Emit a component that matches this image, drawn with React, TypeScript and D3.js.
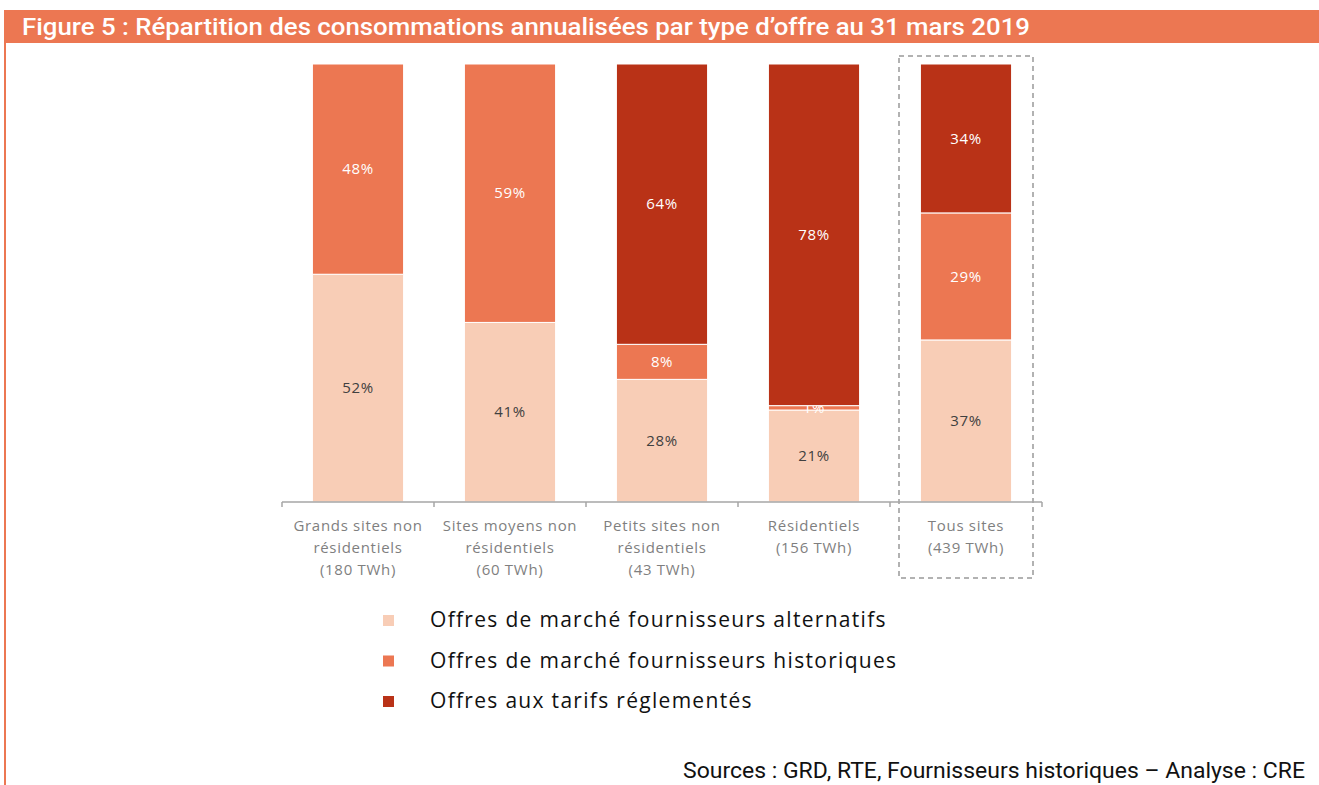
import { useEffect, useRef } from 'react';
import * as d3 from 'd3';

// category labels (multi-line) and series values in %
const categories = [
  ['Grands sites non', 'résidentiels', '(180 TWh)'],
  ['Sites moyens non', 'résidentiels', '(60 TWh)'],
  ['Petits sites non', 'résidentiels', '(43 TWh)'],
  ['Résidentiels', '(156 TWh)'],
  ['Tous sites', '(439 TWh)'],
];
const alternatifs = [52, 41, 28, 21, 37];
const historiques = [48, 59, 8, 1, 29];
const reglementes = [0, 0, 64, 78, 34];

const seriesNames = [
  'Offres de marché fournisseurs alternatifs',
  'Offres de marché fournisseurs historiques',
  'Offres aux tarifs réglementés',
];
const colors = ['#F8CDB6', '#EC7752', '#B93217'];
const labelColors = ['#404040', '#ffffff', '#ffffff'];

const title = 'Figure 5 : Répartition des consommations annualisées par type d’offre au 31 mars 2019';
const source = 'Sources : GRD, RTE, Fournisseurs historiques – Analyse : CRE';

const W = 1319;
const H = 785;

const App = () => {
  const svgRef = useRef<SVGSVGElement>(null);

  useEffect(() => {
    const svg = d3.select(svgRef.current);
    svg.selectAll('*').remove();

    const narrow = 'Roboto, "Liberation Sans", sans-serif';
    const body = '"Open Sans", "Liberation Sans", sans-serif';

    // frame: title bar and left border
    svg.append('rect').attr('x', 4).attr('y', 10).attr('width', W - 4).attr('height', 33).attr('fill', '#EC7752');
    svg.append('rect').attr('x', 4).attr('y', 10).attr('width', 2).attr('height', H - 10).attr('fill', '#EC7752');
    svg.append('text')
      .attr('x', 22)
      .attr('y', 35)
      .attr('fill', '#fff')
      .attr('font-family', narrow)
      .attr('font-weight', 500)
      .attr('font-size', 24)
      .attr('textLength', 1008)
      .attr('lengthAdjust', 'spacingAndGlyphs')
      .text(title);

    const rows = categories.map((c, i) => ({
      key: i,
      alt: alternatifs[i],
      hist: historiques[i],
      reg: reglementes[i],
    }));
    const keys = ['alt', 'hist', 'reg'];
    const stack = d3.stack<any>().keys(keys)(rows);

    const x = d3.scaleBand<number>()
      .domain(rows.map(r => r.key))
      .range([282, 1042])
      .paddingInner(0.4)
      .paddingOuter(0.2);
    const y = d3.scaleLinear().domain([0, 100]).range([502, 64]);

    const g = svg.append('g');

    // dashed box around total
    const bandStep = x.step();
    g.append('rect')
      .attr('x', x(4)! + x.bandwidth() / 2 - 67)
      .attr('y', 56)
      .attr('width', 134)
      .attr('height', 522)
      .attr('fill', 'none')
      .attr('stroke', '#999')
      .attr('stroke-width', 1.5)
      .attr('stroke-dasharray', '5,4');

    stack.forEach((layer, si) => {
      const lg = g.append('g');
      layer.forEach((d, i) => {
        const h = y(d[0]) - y(d[1]);
        if (h <= 0) return;
        lg.append('rect')
          .attr('x', x(i)!)
          .attr('y', y(d[1]))
          .attr('width', x.bandwidth())
          .attr('height', h)
          .attr('fill', colors[si])
          .attr('stroke', '#fff')
          .attr('stroke-width', 1);
        lg.append('text')
          .attr('x', x(i)! + x.bandwidth() / 2)
          .attr('y', (y(d[0]) + y(d[1])) / 2)
          .attr('dy', '0.35em')
          .attr('text-anchor', 'middle')
          .attr('fill', labelColors[si])
          .attr('font-family', body)
          .attr('font-size', 15)
          .attr('letter-spacing', 0.6)
          .text(`${d[1] - d[0]}%`);
      });
    });

    // category axis
    const axisY = 502;
    const ax = g.append('g').attr('stroke', '#a6a6a6').attr('stroke-width', 1.5);
    ax.append('line').attr('x1', 282).attr('x2', 1042).attr('y1', axisY).attr('y2', axisY);
    d3.range(rows.length + 1).forEach(k => {
      const tx = 282 + k * bandStep;
      ax.append('line').attr('x1', tx).attr('x2', tx).attr('y1', axisY).attr('y2', axisY + 5);
    });

    categories.forEach((lines, i) => {
      const t = g.append('text')
        .attr('text-anchor', 'middle')
        .attr('fill', '#7f7f7f')
        .attr('font-family', body)
        .attr('font-size', 15)
        .attr('letter-spacing', 0.7);
      lines.forEach((line, li) => {
        t.append('tspan')
          .attr('x', x(i)! + x.bandwidth() / 2)
          .attr('y', 531 + li * 22)
          .text(line);
      });
    });

    // legend
    const legend = g.append('g');
    seriesNames.forEach((name, i) => {
      const ly = 620 + i * 40.5;
      legend.append('rect')
        .attr('x', 383)
        .attr('y', ly - 5)
        .attr('width', 11)
        .attr('height', 11)
        .attr('fill', colors[i]);
      legend.append('text')
        .attr('x', 430)
        .attr('y', ly)
        .attr('dy', '0.35em')
        .attr('fill', '#111')
        .attr('font-family', body)
        .attr('font-size', 21)
        .attr('letter-spacing', 1.3)
        .text(name);
    });

    svg.append('text')
      .attr('x', 1305)
      .attr('y', 778)
      .attr('text-anchor', 'end')
      .attr('fill', '#111')
      .attr('font-family', narrow)
      .attr('font-size', 22)
      .attr('textLength', 622)
      .attr('lengthAdjust', 'spacingAndGlyphs')
      .text(source);
  }, []);

  return (
    <svg
      ref={svgRef}
      width={W}
      height={H}
      viewBox={`0 0 ${W} ${H}`}
      style={{ position: 'absolute', left: 0, top: 0, background: '#fff' }}
    />
  );
};

export default App;
